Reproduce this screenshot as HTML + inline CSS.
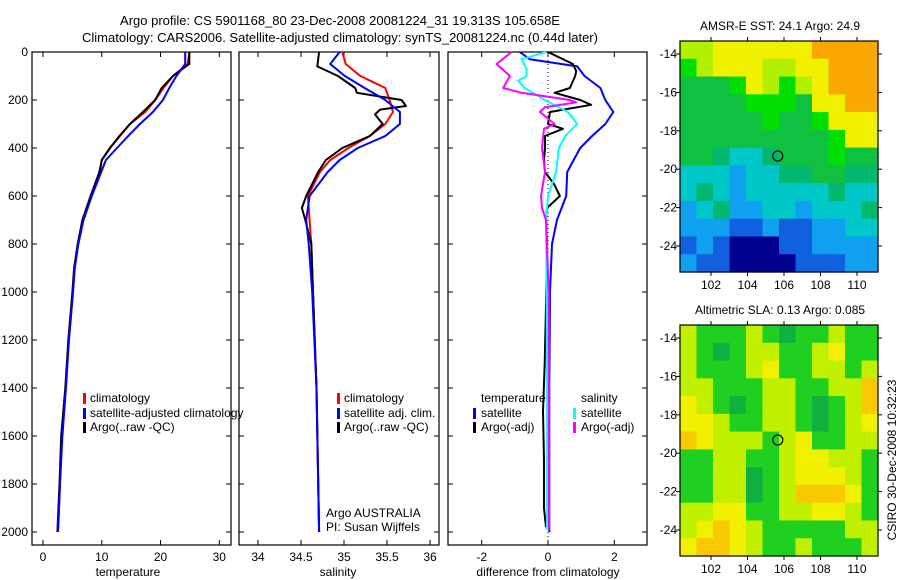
<!DOCTYPE html>
<html><head><meta charset="utf-8">
<style>
html,body{margin:0;padding:0;background:#fff;}
svg{display:block;font-family:"Liberation Sans",sans-serif;}
text{font-size:12px;fill:#000;}
</style></head>
<body>
<svg id="chart" width="900" height="580" viewBox="0 0 900 580">
<text x="340" y="25" text-anchor="middle" style="font-size:13px">Argo profile: CS 5901168_80 23-Dec-2008 20081224_31 19.313S 105.658E</text>
<text x="340" y="42" text-anchor="middle" style="font-size:13px">Climatology: CARS2006. Satellite-adjusted climatology: synTS_20081224.nc (0.44d later)</text>
<g id="layer"></g>
</svg>
<script>
// ---------- data ----------
const depths = [0,50,100,150,200,250,300,350,400,450,500,600,700,800,900,1000,1200,1400,1600,1800,2000];
const tempClim = [24.9,24.6,22.1,20.5,19.1,17.4,14.8,13.1,11.4,10.0,9.7,8.2,6.8,6.0,5.4,5.1,4.4,3.9,3.2,2.9,2.55];
const tempSat  = [24.2,24.2,22.7,21.5,20.4,18.7,16.5,14.5,12.6,10.7,9.9,8.3,6.9,6.0,5.4,5.1,4.4,3.9,3.3,2.9,2.55];
const tempArgo = [24.9,24.9,22.1,20.2,19.1,17.0,14.8,13.0,11.4,10.0,9.6,8.1,6.7,5.9,5.3,5.0,4.3,3.8,3.1,2.8,2.45];
const salDepths = [0,60,100,150,170,200,225,240,260,300,350,400,450,500,600,650,700,800,1000,1400,2000];
const salArgo = [34.71,34.69,34.93,35.13,35.15,35.67,35.72,35.42,35.36,35.45,35.30,34.98,34.79,34.70,34.56,34.51,34.55,34.62,34.64,34.68,34.71];
const salDepthsC = [0,50,100,150,200,250,300,350,400,450,500,600,700,800,1000,1400,2000];
const salClim = [34.98,35.02,35.19,35.48,35.53,35.57,35.48,35.30,35.05,34.84,34.72,34.58,34.60,34.62,34.64,34.68,34.71];
const salSat  = [34.95,34.84,35.01,35.24,35.48,35.65,35.65,35.48,35.16,34.95,34.81,34.60,34.56,34.59,34.63,34.68,34.71];
const dDepthsSatT = [0,30,60,100,150,200,250,300,350,400,500,600,700,800,1000,1400,2000];
const diffSatT = [-0.85,-0.55,0.88,1.1,1.58,1.73,1.97,1.73,1.33,0.97,0.58,0.55,0.27,0.12,0.06,0.04,0.04];
const dDepthsArgoT = [0,50,80,100,150,170,200,220,250,300,320,350,400,450,500,550,600,650,700,800,1000,1300,1500,1700,1900,1980];
const diffArgoT = [0,0.75,0.85,0.82,0.66,0.2,0.97,1.3,0.06,0,0.45,-0.09,-0.09,-0.12,-0.09,0.18,0.36,-0.03,-0.06,-0.03,-0.05,-0.1,-0.15,-0.12,-0.12,-0.06];
const dDepthsSatS = [0,30,70,100,120,150,200,250,300,350,400,500,600,700,1000,1500,1990];
const diffSatS = [-0.06,-0.8,-0.65,-0.65,-0.9,-0.7,-0.1,0.6,0.88,0.52,0.33,0.24,0,-0.06,-0.04,-0.03,-0.03];
const dDepthsArgoS = [0,50,100,150,170,200,210,230,250,300,320,400,500,600,650,700,1000,1500,1990];
const diffArgoS = [-1.1,-1.55,-1.15,-1.35,-0.8,0.66,0.85,-0.09,-0.24,0.2,-0.12,-0.18,-0.09,-0.21,-0.18,-0.06,0.02,0.03,0.03];
const depthTicks = [0,200,400,600,800,1000,1200,1400,1600,1800,2000];
const tempTicks = [0,10,20,30];
const salTicks = [34,34.5,35,35.5,36];
const salTickLabels = ["34","34.5","35","35.5","36"];
const diffTicks = [-2,0,2];
const lonTicks = [102,104,106,108,110];
const latTicks = [-14,-16,-18,-20,-22,-24];
// SST map grid (colour index 0..9), rows north->south
const sstGrid = [
[7,7,8,8,8,8,8,8,9,9,9,9],
[6,7,8,8,8,7,7,8,8,9,9,9],
[5,5,5,6,8,7,6,7,8,9,9,9],
[5,5,5,5,6,6,6,5,8,8,9,9],
[5,5,5,5,5,6,5,5,6,8,8,8],
[5,5,5,5,5,5,5,5,5,6,8,8],
[5,5,4,3,3,4,5,5,5,6,5,5],
[3,3,3,2,3,3,4,4,5,5,4,4],
[3,4,3,2,3,3,3,3,3,4,3,3],
[2,3,4,2,2,3,3,2,3,3,3,4],
[2,2,2,1,1,2,1,1,2,2,3,3],
[1,2,1,0,0,0,1,1,2,2,2,2],
[2,1,1,0,0,0,0,1,1,1,2,2]];
const sstColors = ["#000090","#1060e0","#10a0f0","#00c8c8","#00b870","#10c040","#00e000","#b0f000","#f0f000","#f8a800"];
const slaGrid = [
[3,1,1,1,3,1,0,1,1,3,1,1],
[3,1,0,1,3,3,1,1,3,4,1,1],
[3,1,1,1,3,4,1,1,3,3,1,3],
[3,3,1,1,1,3,3,1,1,3,3,5],
[4,3,1,0,1,3,3,1,0,1,3,5],
[4,4,3,1,1,3,3,1,0,1,3,4],
[5,4,3,3,3,1,3,4,1,1,3,3],
[1,1,3,3,1,1,3,4,4,3,3,1],
[1,1,3,3,0,1,3,4,4,4,3,1],
[1,1,3,3,0,1,3,5,5,5,4,1],
[3,3,4,4,1,1,3,3,4,4,3,1],
[3,4,5,4,3,1,1,1,1,1,3,3],
[4,5,5,4,3,1,1,3,1,1,1,3]];
const slaColors = ["#10b040","#20d020","#70e000","#c0f000","#f0f000","#f8c800"];
const argoLon = 105.658, argoLat = -19.313;

// ---------- helpers ----------
const NS="http://www.w3.org/2000/svg";
const L=document.getElementById('layer');
function mk(tag,attrs,parent){const e=document.createElementNS(NS,tag);for(const k in attrs)e.setAttribute(k,attrs[k]);(parent||L).appendChild(e);return e;}
const Y0=52, PXD=0.24;
const yD = d => Y0 + d*PXD;
function lin(v0,p0,v1,p1){return v=>p0+(v-v0)*(p1-p0)/(v1-v0);}

function panel(x0,x1,name){
  const r=mk('rect',{x:x0,y:Y0,width:x1-x0,height:545-Y0,fill:'none',stroke:'#000','stroke-width':1.2});
  
  
}
function line(xs,ds,sx,color,name,w){
  const pts=xs.map((v,i)=>sx(v).toFixed(1)+','+yD(ds[i]).toFixed(1)).join(' ');
  const p=mk('polyline',{points:pts,fill:'none',stroke:color,'stroke-width':w||2,'stroke-linejoin':'round'});
  
  
}
function xticks(ticks,labels,sx,x0,x1,name){
  ticks.forEach((t,i)=>{
    const x=sx(t);
    mk('line',{x1:x,x2:x,y1:Y0,y2:Y0+5,stroke:'#000'});
    mk('line',{x1:x,x2:x,y1:545,y2:540,stroke:'#000'});
    const tx=mk('text',{x:x,y:561,'text-anchor':'middle'});tx.textContent=labels[i];
    
    
  });
}
function yticks(x0,x1,labels){
  depthTicks.forEach(d=>{
    const y=yD(d);
    mk('line',{x1:x0,x2:x0+5,y1:y,y2:y,stroke:'#000'});
    mk('line',{x1:x1,x2:x1-5,y1:y,y2:y,stroke:'#000'});
    if(labels){const t=mk('text',{x:x0-4,y:y+4,'text-anchor':'end'});t.textContent=d;
      
      }
  });
}
function txt(x,y,s,name,anchor){const t=mk('text',{x:x,y:y,'text-anchor':anchor||'start'});t.textContent=s;
  
  return t;}
function legendMark(x,y,c){const r=mk('rect',{x:x,y:y-10,width:3,height:11,fill:c});
  
  }

// ---------- panel 1: temperature ----------
const sxT=lin(0,43,30,219.3);
panel(32,231,'temperature-panel');
yticks(32,231,true);
xticks(tempTicks,tempTicks.map(String),sxT,32,231,'temperature');
line(tempClim,depths,sxT,'#ff0000','temp-climatology-line');
line(tempArgo,depths,sxT,'#000000','temp-argo-line');
line(tempSat,depths,sxT,'#0000ff','temp-satellite-line');
txt(128,576,'temperature','temperature-axis-title','middle');
legendMark(83,403,'#ff0000');txt(90,402,'climatology','legend-climatology');
legendMark(83,418,'#0000ff');txt(90,417,'satellite-adjusted climatology','legend-satellite');
legendMark(83,432,'#000');txt(90,431,'Argo(..raw -QC)','legend-argo');

// ---------- panel 2: salinity ----------
const sxS=lin(34,258,36,430);
panel(239,439,'salinity-panel');
yticks(239,439,false);
xticks(salTicks,salTickLabels,sxS,239,439,'salinity');
line(salClim,salDepthsC,sxS,'#ff0000','sal-climatology-line');
line(salArgo,salDepths,sxS,'#000000','sal-argo-line');
line(salSat,salDepthsC,sxS,'#0000ff','sal-satellite-line');
txt(338,576,'salinity','salinity-axis-title','middle');
legendMark(337,403,'#ff0000');txt(344,402,'climatology','legend-climatology-2');
legendMark(337,418,'#0000ff');txt(344,417,'satellite adj. clim.','legend-satellite-2');
legendMark(337,432,'#000');txt(344,431,'Argo(..raw -QC)','legend-argo-2');
txt(326,517,'Argo AUSTRALIA','data-source-label');
txt(326,531,'PI: Susan Wijffels','pi-label');

// ---------- panel 3: differences ----------
const sxD=lin(-2,481.7,2,614.3);
panel(448,647,'difference-panel');
yticks(448,647,false);
xticks(diffTicks,diffTicks.map(String),sxD,448,647,'difference');
mk('line',{x1:sxD(0),x2:sxD(0),y1:Y0,y2:545,stroke:'#000','stroke-dasharray':'1,3'});
line(diffSatT,dDepthsSatT,sxD,'#0000ff','diff-temp-satellite-line');
line(diffArgoT,dDepthsArgoT,sxD,'#000000','diff-temp-argo-line');
line(diffSatS,dDepthsSatS,sxD,'#00ffff','diff-sal-satellite-line');
line(diffArgoS,dDepthsArgoS,sxD,'#ff00ff','diff-sal-argo-line');
txt(548,576,'difference from climatology','difference-axis-title','middle');
txt(481,402,'temperature','legend-temperature-header');
legendMark(473,418,'#0000ff');txt(481,417,'satellite','legend-temp-satellite');
legendMark(473,432,'#000');txt(481,431,'Argo(-adj)','legend-temp-argo');
txt(581,402,'salinity','legend-salinity-header');
legendMark(573,418,'#00ffff');txt(581,417,'satellite','legend-sal-satellite');
legendMark(573,432,'#ff00ff');txt(581,431,'Argo(-adj)','legend-sal-argo');

// ---------- maps ----------
function map(top,grid,colors,title,name){
  const x0=680,x1=878,y0=top,y1=top+231;
  const sx=lin(102,711,110,857), sy=lin(-14,top+13,-24,top+205);
  const g=mk('g',{});
  
  
  const rows=grid.length, cols=grid[0].length;
  const cw=(x1-x0)/cols, ch=(y1-y0)/rows;
  grid.forEach((row,r)=>row.forEach((v,c)=>{
    const cell=mk('rect',{x:(x0+c*cw).toFixed(2),y:(y0+r*ch).toFixed(2),width:(cw+0.6).toFixed(2),height:(ch+0.6).toFixed(2),fill:colors[v]},g);
    
    
  }));
  mk('rect',{x:x0,y:y0,width:x1-x0,height:y1-y0,fill:'none',stroke:'#000','stroke-width':1.2});
  lonTicks.forEach(l=>{const x=sx(l);mk('line',{x1:x,x2:x,y1:y0,y2:y0-4,stroke:'#000'});mk('line',{x1:x,x2:x,y1:y1,y2:y1+4,stroke:'#000'});
    const t=mk('text',{x:x,y:y1+17,'text-anchor':'middle'});t.textContent=l;
    
    });
  latTicks.forEach(l=>{const y=sy(l);mk('line',{x1:x0,x2:x0-4,y1:y,y2:y,stroke:'#000'});mk('line',{x1:x1,x2:x1+4,y1:y,y2:y,stroke:'#000'});
    const t=mk('text',{x:x0-3,y:y+4,'text-anchor':'end'});t.textContent=l;
    
    });
  const m=mk('circle',{cx:sx(argoLon),cy:sy(argoLat),r:5,fill:'none',stroke:'#000','stroke-width':1.2});
  
  
  txt(780,top-11,title,name+'-title','middle');
}
map(41,sstGrid,sstColors,'AMSR-E SST: 24.1 Argo: 24.9','sst-map');
map(325,slaGrid,slaColors,'Altimetric SLA: 0.13 Argo: 0.085','sla-map');
const st=txt(0,0,'CSIRO 30-Dec-2008 10:32:23','timestamp-label','middle');
st.setAttribute('transform','translate(896,460) rotate(-90)');
</script>
</body></html>
